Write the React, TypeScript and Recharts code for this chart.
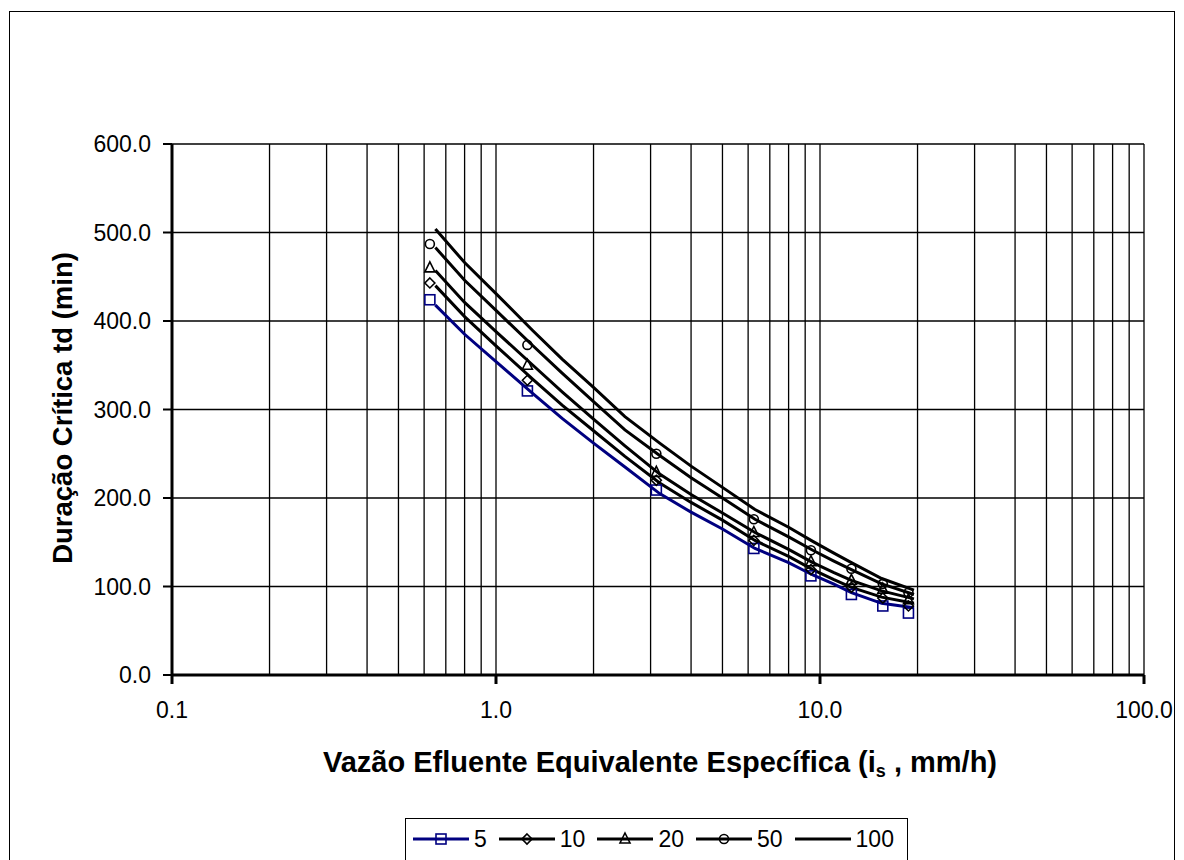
import React from "react";
import { ComposedChart, Line, Scatter, XAxis, YAxis, CartesianGrid } from "recharts";

// marker points
const markerX = [0.625, 1.25, 3.125, 6.25, 9.375, 12.5, 15.625, 18.75];
const marker5 = [424, 321, 209, 143, 112, 91, 78, 70];
const marker10 = [443, 333, 220, 152, 119, 99, 87, 78];
const marker20 = [460, 350, 229, 161, 128, 107, 97, 85];
const marker50 = [487, 373, 250, 176, 141, 120, 103, 93];

// curves drawn through the picture
const curveX = [0.65, 0.8, 1.0, 1.3, 1.6, 2.0, 2.5, 3.2, 4.0, 5.0, 6.3, 8.0, 9.5, 11.0, 12.5, 15.5, 19.5];
const curve5 = [418, 385, 354, 318, 290, 262, 235, 205, 184, 165, 143, 127, 113, 103, 93, 81, 76];
const curve10 = [440, 405, 372, 334, 305, 276, 247, 217, 195, 175, 152, 134, 119, 108, 99, 88, 81];
const curve20 = [457, 421, 388, 350, 320, 289, 259, 227, 204, 183, 161, 142, 127, 116, 107, 95, 86];
const curve50 = [483, 446, 412, 372, 341, 309, 277, 248, 223, 200, 176, 156, 141, 129, 119, 103, 91];
const curve100 = [504, 466, 431, 389, 357, 325, 292, 262, 236, 212, 187, 167, 151, 138, 127, 109, 96];

const xTicks = [
  0.1, 0.2, 0.3, 0.4, 0.5, 0.6, 0.7, 0.8, 0.9,
  1, 2, 3, 4, 5, 6, 7, 8, 9,
  10, 20, 30, 40, 50, 60, 70, 80, 90, 100,
];
const xLabelTicks = [0.1, 1, 10, 100];
const yTicks = [0, 100, 200, 300, 400, 500, 600];

const seriesNames = ["5", "10", "20", "50", "100"];
const NAVY = "#000080";
const FONT = "'Liberation Sans', Arial, sans-serif";

const toPoints = (xs: number[], ys: number[]) => xs.map((x, i) => ({ x, y: ys[i] }));

type MarkerKind = "square" | "diamond" | "triangle" | "circle" | "none";

function markerPath(kind: MarkerKind, cx: number, cy: number, color: string) {
  const s = 5;
  if (kind === "square")
    return <rect x={cx - s} y={cy - s} width={2 * s} height={2 * s} fill="none" stroke={color} strokeWidth={1.6} />;
  if (kind === "diamond")
    return (
      <polygon
        points={`${cx},${cy - s} ${cx + s},${cy} ${cx},${cy + s} ${cx - s},${cy}`}
        fill="none"
        stroke={color}
        strokeWidth={1.6}
      />
    );
  if (kind === "triangle")
    return (
      <polygon
        points={`${cx},${cy - s - 1} ${cx + s},${cy + s - 1} ${cx - s},${cy + s - 1}`}
        fill="none"
        stroke={color}
        strokeWidth={1.6}
      />
    );
  if (kind === "circle") return <circle cx={cx} cy={cy} r={s - 0.5} fill="none" stroke={color} strokeWidth={1.6} />;
  return <g />;
}

const shapeFor = (kind: MarkerKind, color: string) => (props: any) =>
  markerPath(kind, props.cx, props.cy, color);

const XTick = (props: any) => {
  const { x, y, payload } = props;
  const v = payload.value as number;
  if (!xLabelTicks.includes(v)) return <g />;
  return (
    <g>
      <line x1={x} x2={x} y1={y} y2={y + 9} stroke="#000" strokeWidth={3} />
      <text x={x} y={y + 43} textAnchor="middle" fontSize={23} fill="#000" fontFamily={FONT}>
        {v.toFixed(1)}
      </text>
    </g>
  );
};

const legendItems: { name: string; color: string; kind: MarkerKind }[] = [
  { name: seriesNames[0], color: NAVY, kind: "square" },
  { name: seriesNames[1], color: "#000", kind: "diamond" },
  { name: seriesNames[2], color: "#000", kind: "triangle" },
  { name: seriesNames[3], color: "#000", kind: "circle" },
  { name: seriesNames[4], color: "#000", kind: "none" },
];

export default function App() {
  const lines = [
    { data: toPoints(curveX, curve5), color: NAVY },
    { data: toPoints(curveX, curve10), color: "#000" },
    { data: toPoints(curveX, curve20), color: "#000" },
    { data: toPoints(curveX, curve50), color: "#000" },
    { data: toPoints(curveX, curve100), color: "#000" },
  ];
  const markers = [
    { data: toPoints(markerX, marker5), color: NAVY, kind: "square" as MarkerKind },
    { data: toPoints(markerX, marker10), color: "#000", kind: "diamond" as MarkerKind },
    { data: toPoints(markerX, marker20), color: "#000", kind: "triangle" as MarkerKind },
    { data: toPoints(markerX, marker50), color: "#000", kind: "circle" as MarkerKind },
  ];

  return (
    <div
      style={{
        position: "absolute",
        left: 9,
        top: 11,
        width: 1166,
        height: 849,
        border: "1px solid #000",
        borderBottom: "none",
        boxSizing: "border-box",
        overflow: "hidden",
        background: "#fff",
        fontFamily: FONT,
      }}
    >
      <div style={{ position: "absolute", left: 0, top: 0 }}>
        <ComposedChart width={1164} height={848} margin={{ top: 132, right: 30, bottom: 125, left: 62 }}>
          <CartesianGrid stroke="#000" strokeWidth={1.3} xAxisId={0} yAxisId={0} />
          <XAxis
            type="number"
            dataKey="x"
            scale="log"
            domain={[0.1, 100]}
            ticks={xTicks}
            interval={0}
            allowDataOverflow
            tick={<XTick />}
            tickLine={false}
            tickSize={0}
            tickMargin={0}
            height={60}
            axisLine={{ stroke: "#000", strokeWidth: 3 }}
          />
          <YAxis
            type="number"
            dataKey="y"
            domain={[0, 600]}
            ticks={yTicks}
            interval={0}
            width={100}
            tickFormatter={(v: number) => v.toFixed(1)}
            tick={{ fill: "#000", fontSize: 23, fontFamily: FONT }}
            tickSize={9}
            tickMargin={12}
            tickLine={{ stroke: "#000", strokeWidth: 2 }}
            axisLine={{ stroke: "#000", strokeWidth: 3 }}
          />
          {lines.map((l, i) => (
            <Line
              key={"l" + i}
              data={l.data}
              dataKey="y"
              type="linear"
              stroke={l.color}
              strokeWidth={3}
              dot={false}
              activeDot={false}
              isAnimationActive={false}
            />
          ))}
          {markers.map((m, i) => (
            <Scatter
              key={"m" + i}
              data={m.data}
              dataKey="y"
              shape={shapeFor(m.kind, m.color)}
              isAnimationActive={false}
            />
          ))}
        </ComposedChart>
      </div>

      <div
        style={{
          position: "absolute",
          left: 53,
          top: 396,
          transform: "translate(-50%, -50%) rotate(-90deg)",
          whiteSpace: "nowrap",
          fontSize: 27.5,
          fontWeight: "bold",
          lineHeight: 1,
          color: "#000",
        }}
      >
        Duração Crítica td (min)
      </div>

      <div
        style={{
          position: "absolute",
          left: 650,
          top: 752,
          transform: "translate(-50%, -50%)",
          whiteSpace: "nowrap",
          fontSize: 29,
          fontWeight: "bold",
          lineHeight: 1,
          color: "#000",
        }}
      >
        Vazão Efluente Equivalente Específica (i
        <sub style={{ fontSize: 18, verticalAlign: "-5px" }}>s</sub> , mm/h)
      </div>

      <div
        style={{
          position: "absolute",
          left: 395,
          top: 806,
          width: 503,
          height: 50,
          border: "1px solid #000",
          boxSizing: "border-box",
          display: "flex",
          alignItems: "flex-start",
          paddingLeft: 7,
          paddingTop: 9,
        }}
      >
        {legendItems.map((it) => (
          <div key={it.name} style={{ display: "flex", alignItems: "center", marginRight: 12, height: 22 }}>
            <svg width={56} height={20} style={{ display: "block" }}>
              <line x1={0} x2={56} y1={10} y2={10} stroke={it.color} strokeWidth={3} />
              {markerPath(it.kind, 28, 10, it.color)}
            </svg>
            <span style={{ fontSize: 23, marginLeft: 5, lineHeight: 1, color: "#000" }}>{it.name}</span>
          </div>
        ))}
      </div>
    </div>
  );
}
